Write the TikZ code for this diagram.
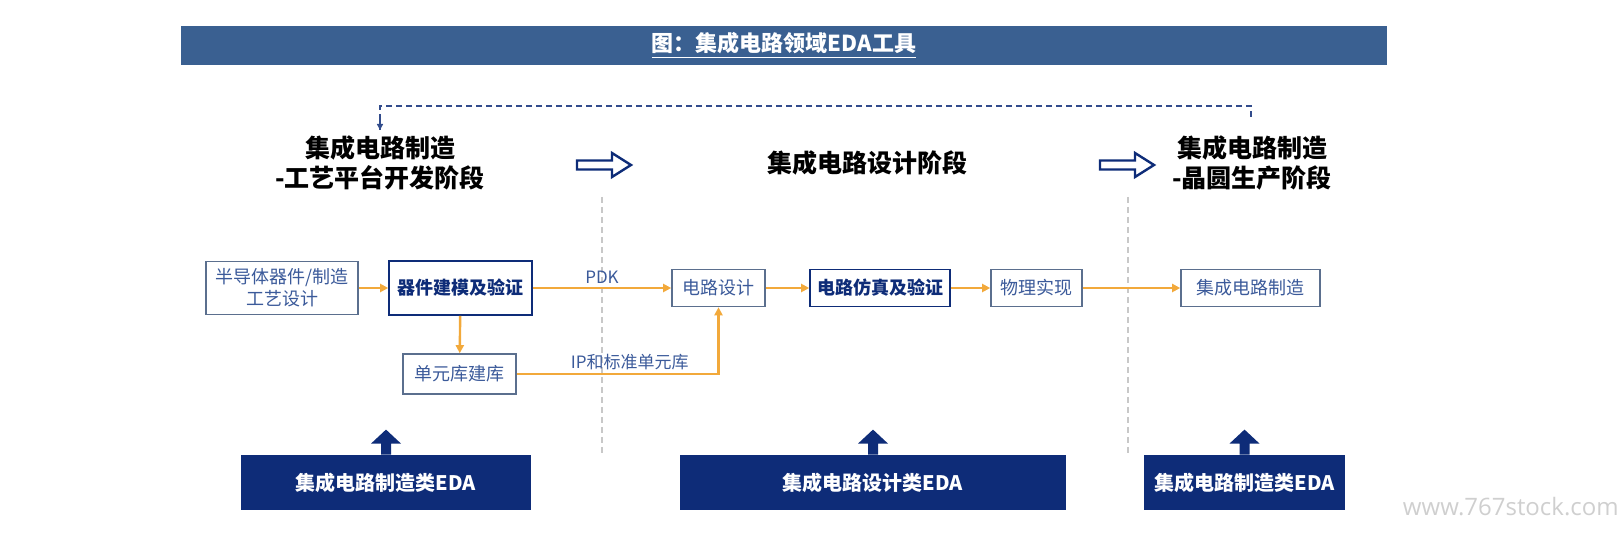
\documentclass[tikz,border=0pt]{standalone}
\usepackage{fontspec}
\setmainfont{Noto Sans CJK SC}
\newfontfamily\wmfont{Open Sans}
\usetikzlibrary{arrows.meta}

\definecolor{titlebar}{HTML}{3A6091}
\definecolor{navy}{HTML}{0E2C78}
\definecolor{flowline}{HTML}{F2A93B}
\definecolor{boxline}{HTML}{5B6F8E}
\definecolor{boxtext}{HTML}{3B5A9A}
\definecolor{dividergray}{HTML}{C8C8C8}
\definecolor{wmgray}{HTML}{CFCFCF}

\tikzset{
  pics/hollowarrow/.style={code={
    \draw[navy,line width=1.2pt,fill=white]
      (0,-4.5) -- (35,-4.5) -- (35,-12) -- (54,0) -- (35,12) -- (35,4.5) -- (0,4.5) -- cycle;
  }},
  pics/blockup/.style={code={
    \fill[navy] (-5,0) -- (-5,-11) -- (-15,-11) -- (0,-25) -- (15,-11) -- (5,-11) -- (5,0) -- cycle;
  }},
}

\begin{document}
\begin{tikzpicture}[x=0.5pt,y=-0.5pt,
    box/.style={draw=boxline,line width=0.8pt,fill=white,text=boxtext,align=center,
      inner sep=2pt,font=\fontsize{9}{11}\selectfont},
    keybox/.style={box,draw=navy,text=navy,font=\fontsize{9}{11}\selectfont\bfseries},
    flow/.style={draw=flowline,line width=1.2pt,-{Triangle[length=4pt,width=4pt]}},
    stage/.style={font=\fontsize{12.5}{15}\selectfont\bfseries,align=center,inner sep=0pt},
    edabox/.style={fill=navy,text=white,minimum height=27.5pt,inner sep=0pt,
      font=\fontsize{10}{12}\selectfont\bfseries},
    divider/.style={draw=dividergray,dash pattern=on 3pt off 2pt,line width=0.7pt},
    fback/.style={draw=navy!85,dash pattern=on 3pt off 2pt,line width=1pt},
    lbl/.style={text=boxtext,font=\fontsize{8.5}{10}\selectfont,inner sep=1.5pt}]
  \useasboundingbox (0,0) rectangle (1622,533);

  % title bar
  \node[fill=titlebar,text=white,minimum width=603pt,minimum height=19.5pt,inner sep=0pt,
    font=\fontsize{11}{13}\selectfont\bfseries] (title) at (784,45.5)
    {\underline{图：集成电路领域EDA工具}};

  % stages
  \node[stage] (stageA) at (380,163) {集成电路制造\\-工艺平台开发阶段};
  \node[stage] (stageB) at (867,163) {集成电路设计阶段};
  \node[stage] (stageC) at (1252,163) {集成电路制造\\-晶圆生产阶段};
  \pic at (577,165) {hollowarrow};
  \pic at (1100,165) {hollowarrow};

  % feedback from wafer stage to process stage
  \coordinate (fbR) at (1251,117);
  \coordinate (fbL) at (380,130);
  \draw[fback] (fbR) -- (fbR |- 0,106) -| (fbL);
  \draw[navy!85,line width=1pt,-{Triangle[length=3pt,width=3pt]}] (380,120) -- (fbL);

  % stage dividers
  \draw[divider] (602,197) -- (602,455);
  \draw[divider] (1128,197) -- (1128,455);

  % flow boxes
  \node[box,minimum width=76pt,minimum height=26.5pt] (proc) at (282,288) {半导体器件/制造\\工艺设计};
  \node[keybox,minimum width=71.5pt,minimum height=27pt] (devmodel) at (460.5,288) {器件建模及验证};
  \node[box,minimum width=56.5pt,minimum height=20pt] (celllib) at (459.5,374) {单元库建库};
  \node[box,minimum width=46.5pt,minimum height=18.5pt] (circdes) at (718.5,288) {电路设计};
  \node[keybox,minimum width=70pt,minimum height=18.5pt] (circsim) at (880,288) {电路仿真及验证};
  \node[box,minimum width=45.5pt,minimum height=18.5pt] (phys) at (1036.5,288) {物理实现};
  \node[box,minimum width=69.5pt,minimum height=18.5pt] (icmfg) at (1250.5,288) {集成电路制造};

  \draw[flow] (proc) -- (devmodel);
  \draw[flow] (devmodel) -- node[lbl,above] {PDK} (circdes);
  \draw[flow] (devmodel) -- (celllib);
  \draw[flow] (celllib.east) -| node[lbl,above,pos=0.28] {IP和标准单元库} (circdes.south);
  \draw[flow] (circdes) -- (circsim);
  \draw[flow] (circsim) -- (phys);
  \draw[flow] (phys) -- (icmfg);

  % EDA categories
  \node[edabox,minimum width=145pt] (edaA) at (386,482.5) {集成电路制造类EDA};
  \node[edabox,minimum width=193pt] (edaB) at (873,482.5) {集成电路设计类EDA};
  \node[edabox,minimum width=100.5pt] (edaC) at (1244.5,482.5) {集成电路制造类EDA};
  \pic at (edaA.north) {blockup};
  \pic at (edaB.north) {blockup};
  \pic at (edaC.north) {blockup};

  % watermark
  \node[text=wmgray,font=\wmfont\fontsize{12}{14}\selectfont,anchor=east,inner sep=0pt] (mark) at (1619,507) {www.767stock.com};
\end{tikzpicture}
\end{document}
